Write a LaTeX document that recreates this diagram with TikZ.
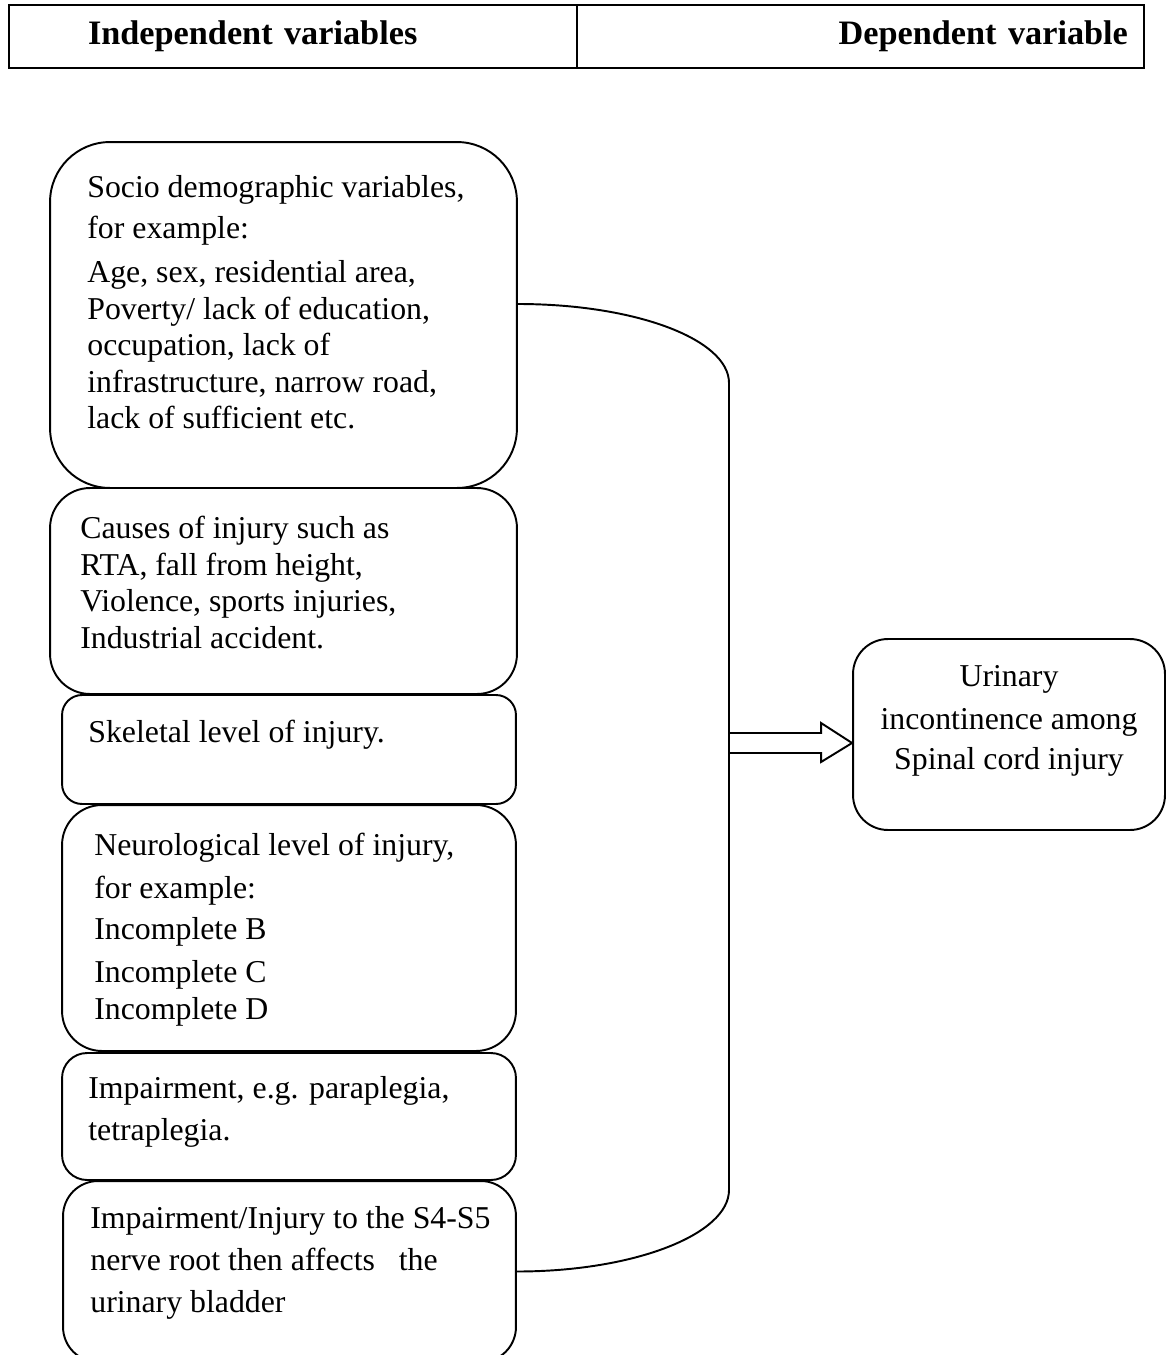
\documentclass[tikz,border=0pt]{standalone}
\usepackage{fontspec}
\setmainfont{Liberation Serif}
\usetikzlibrary{calc}
\newcommand{\bodysize}{\fontsize{18.1}{20.8}\selectfont}
\newcommand{\headsize}{\fontsize{19.5}{22}\selectfont}

\begin{document}
\begin{tikzpicture}[x=0.02cm,y=-0.02cm,font=\bodysize,
    varbox/.style={draw, line width=1.1pt, rounded corners=#1, inner sep=0pt},
    boxtext/.style={anchor=north west, align=left, inner sep=0pt},
    headcell/.style={draw, line width=1.5pt, minimum height=1.26cm, inner ysep=0pt, font=\headsize\bfseries},
    link/.style={line width=1.1pt}]
  \useasboundingbox (0,0) rectangle (1166,1355);
  % header row
  \node[headcell, minimum width=11.36cm, text width=8.2cm, inner xsep=1.58cm, align=left] (indep) at (293,36.5) {Independent variables};
  \node[headcell, minimum width=11.34cm, text width=10.7cm, inner xsep=0.32cm, align=right] (dep) at (860.5,36.5) {Dependent variable};
  % independent variables
  \node[varbox=1.2cm, minimum width=9.34cm, minimum height=6.92cm] (socio) at (283.5,315) {};
  \node[varbox=0.8cm, minimum width=9.34cm, minimum height=4.12cm] (causes) at (283.5,591) {};
  \node[varbox=0.4cm, minimum width=9.08cm, minimum height=2.18cm] (skeletal) at (289,749.5) {};
  \node[varbox=0.8cm, minimum width=9.08cm, minimum height=4.92cm] (neuro) at (289,928) {};
  \node[varbox=0.5cm, minimum width=9.08cm, minimum height=2.54cm] (impair) at (289,1116.5) {};
  \node[varbox=0.7cm, minimum width=9.06cm, minimum height=3.62cm] (nerve) at (289.5,1271.5) {};
  \node[boxtext] (socio-txt) at (87,175) {Socio demographic variables,\\[2.6pt] for example:\\[4.3pt] Age, sex, residential area,\\ Poverty/ lack of education,\\ occupation, lack of\\ infrastructure, narrow road,\\ lack of sufficient etc.};
  \node[boxtext] (causes-txt) at (80,516) {Causes of injury such as\\ RTA, fall from height,\\ Violence, sports injuries,\\ Industrial accident.};
  \node[boxtext] (skeletal-txt) at (88,720) {Skeletal level of injury.};
  \node[boxtext] (neuro-txt) at (94,833) {Neurological level of injury,\\[3.7pt] for example:\\[2.6pt] Incomplete B\\[3.7pt] Incomplete C\\ Incomplete D};
  \node[boxtext] (impair-txt) at (88,1076) {Impairment, e.g. paraplegia,\\[3.1pt] tetraplegia.};
  \node[boxtext] (nerve-txt) at (90,1206) {Impairment/Injury to the S4-S5\\[3.1pt] nerve root then affects\ \ \ the\\[3.1pt] urinary bladder};
  % dependent variable
  \node[varbox=0.7cm, minimum width=6.24cm, minimum height=3.82cm] (outcome) at (1009,734.5) {};
  \node[boxtext, anchor=north, align=center] (outcome-txt) at (1009,665) {Urinary\\[3.7pt] incontinence among\\[2pt] Spinal cord injury};
  % bracket and arrow
  \coordinate (bracetop) at (729,383);
  \coordinate (bracebot) at (729,1190);
  \coordinate (arrowbase) at (729,743);
  \draw[link] ([yshift=0.22cm]socio.east) .. controls +(117.6,0) and +(0,-43.6) .. (bracetop) -- (bracebot) .. controls +(0,44.2) and +(117.6,0) .. (nerve.east);
  \coordinate (tip) at (outcome.west |- arrowbase);
  \draw[link, line join=miter] ($(arrowbase)+(0,-10)$) -- ($(tip)+(-31,-10)$) -- ($(tip)+(-31,-20)$) -- (tip) -- ($(tip)+(-31,19)$) -- ($(tip)+(-31,10)$) -- ($(arrowbase)+(0,10)$);
\end{tikzpicture}
\end{document}
